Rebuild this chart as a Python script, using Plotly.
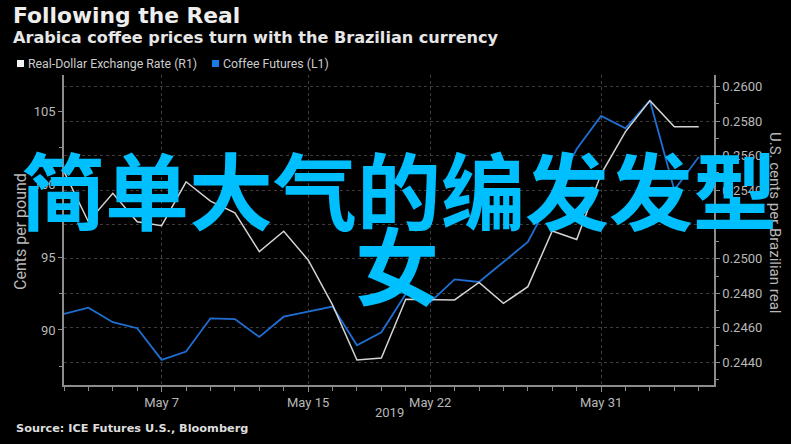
import plotly.graph_objects as go

# ---- data ----
dates = ["2019-05-01", "2019-05-02", "2019-05-03", "2019-05-06", "2019-05-07",
         "2019-05-08", "2019-05-09", "2019-05-10", "2019-05-13", "2019-05-14",
         "2019-05-15", "2019-05-16", "2019-05-17", "2019-05-20", "2019-05-21",
         "2019-05-22", "2019-05-23", "2019-05-24", "2019-05-27", "2019-05-28",
         "2019-05-29", "2019-05-30", "2019-05-31", "2019-06-03", "2019-06-04",
         "2019-06-05", "2019-06-06"]

real_dollar = [0.25507, 0.25216, 0.25381, 0.25216, 0.25193, 0.25448, 0.25336,
               0.25267, 0.25043, 0.25161, 0.24994, 0.24733, 0.24413, 0.24425,
               0.24766, 0.24766, 0.24762, 0.24864, 0.24742, 0.24839, 0.25162,
               0.25113, 0.25493, 0.25739, 0.25919, 0.25768, 0.25768]

coffee = [91.10, 91.53, 90.53, 90.12, 87.95, 88.52, 90.80, 90.75, 89.52, 90.91,
          91.25, 91.60, 88.95, 89.84, 92.47, 91.90, 93.47, 93.29, 94.66, 96.03,
          99.18, 102.40, 104.66, 103.82, 105.71, 99.59, 101.85]

major_ticks = ["2019-05-07", "2019-05-15", "2019-05-22", "2019-05-31"]
major_labels = ["May 7", "May 15", "May 22", "May 31"]
left_ticks = [90, 95, 100, 105]
left_minor = [87.5, 92.5, 97.5, 102.5]

title = "Following the Real"
subtitle = "Arabica coffee prices turn with the Brazilian currency"
legend_names = ["Real-Dollar Exchange Rate (R1)", "Coffee Futures (L1)"]
source = "Source: ICE Futures U.S., Bloomberg"
overlay_line1 = "简单大气的编发发型"
overlay_line2 = "女"

# ---- geometry helpers (pixel -> paper) ----
W, H = 791, 444
L, R, T, B = 64, 77, 75, 59
PW, PH = W - L - R, H - T - B


def px(x):
    return (x - L) / PW


def py(y):
    return (H - B - y) / PH


WHITE = "#d4d4d4"
BLUE = "#1f6fd2"
TICKC = "#b8b8b8"
AXC = "#8c8c8c"
GRID = "#3c3c3c"

fig = go.Figure()
fig.add_trace(go.Scatter(x=dates, y=real_dollar, mode="lines", name=legend_names[0],
                         line=dict(color=WHITE, width=1.5), yaxis="y2", showlegend=False))
fig.add_trace(go.Scatter(x=dates, y=coffee, mode="lines", name=legend_names[1],
                         line=dict(color=BLUE, width=1.8), yaxis="y", showlegend=False))

tickfont = dict(family="Roboto", size=13, color=TICKC)

fig.update_layout(
    width=W, height=H,
    margin=dict(l=L, r=R, t=T, b=B, autoexpand=False),
    paper_bgcolor="black", plot_bgcolor="black",
    xaxis=dict(
        type="date",
        range=["2019-05-01", "2019-06-06 15:00"],
        rangebreaks=[dict(bounds=["sat", "mon"])],
        tickmode="array", tickvals=major_ticks, ticktext=major_labels,
        ticks="outside", ticklen=5, tickcolor=AXC, tickwidth=1,
        showgrid=True, gridcolor=GRID, griddash="dot", gridwidth=1,
        showline=True, linecolor=AXC, linewidth=1.5,
        tickfont=tickfont, zeroline=False,
        minor=dict(tickmode="array", tickvals=dates, ticks="outside", ticklen=4,
                   tickcolor=AXC, showgrid=False),
    ),
    yaxis=dict(
        range=[86.23, 107.47],
        tickmode="array", tickvals=left_ticks,
        ticks="outside", ticklen=4, tickcolor=AXC,
        showgrid=False, zeroline=False,
        showline=True, linecolor=AXC, linewidth=1.5,
        tickfont=tickfont,
        minor=dict(tickmode="array", tickvals=left_minor, ticks="outside", ticklen=3,
                   tickcolor=AXC, showgrid=False),
    ),
    yaxis2=dict(
        overlaying="y", side="right",
        range=[0.24268, 0.26068],
        tick0=0.244, dtick=0.002, tickformat=".4f",
        ticks="outside", ticklen=4, tickcolor=AXC,
        showgrid=True, gridcolor=GRID, griddash="dot", gridwidth=1,
        zeroline=False, showline=True, linecolor=AXC, linewidth=1.5,
        tickfont=tickfont,
        minor=dict(dtick=0.001, tick0=0.244, ticks="outside", ticklen=3,
                   tickcolor=AXC, showgrid=False),
    ),
    showlegend=False,
)

ann = []
ann.append(dict(text="<b>" + title + "</b>", x=px(11), y=py(16), xref="paper", yref="paper",
                xanchor="left", yanchor="middle", showarrow=False,
                font=dict(family="DejaVu Sans", size=21.8, color="#eeeeee")))
ann.append(dict(text="<b>" + subtitle + "</b>", x=px(11), y=py(38), xref="paper", yref="paper",
                xanchor="left", yanchor="middle", showarrow=False,
                font=dict(family="DejaVu Sans", size=16.1, color="#e6e6e6")))
legfont = dict(family="Roboto", size=12.3, color="#cccccc")
ann.append(dict(text=legend_names[0], x=px(26), y=py(63.5), xref="paper", yref="paper",
                xanchor="left", yanchor="middle", showarrow=False, font=legfont))
ann.append(dict(text=legend_names[1], x=px(221), y=py(63.5), xref="paper", yref="paper",
                xanchor="left", yanchor="middle", showarrow=False, font=legfont))
ann.append(dict(text="Cents per pound", x=px(21), y=py(231), xref="paper", yref="paper",
                xanchor="center", yanchor="middle", textangle=-90, showarrow=False,
                font=dict(family="Roboto", size=16, color=TICKC)))
ann.append(dict(text="U.S. cents per Brazilian real", x=px(775), y=py(222), xref="paper", yref="paper",
                xanchor="center", yanchor="middle", textangle=90, showarrow=False,
                font=dict(family="Roboto", size=15, color=TICKC)))
ann.append(dict(text="2019", x=px(389), y=py(412), xref="paper", yref="paper",
                xanchor="center", yanchor="middle", showarrow=False,
                font=dict(family="Roboto", size=13, color=TICKC)))
ann.append(dict(text="<b>" + source + "</b>", x=px(14), y=py(428), xref="paper", yref="paper",
                xanchor="left", yanchor="middle", showarrow=False,
                font=dict(family="DejaVu Sans", size=11.3, color="#dddddd")))
ovfont = dict(family="Noto Sans CJK SC", size=84, color="#00bfff", weight="bold")
ann.append(dict(text=overlay_line1, x=px(399), y=py(187), xref="paper", yref="paper",
                xanchor="center", yanchor="middle", showarrow=False, font=ovfont))
ann.append(dict(text=overlay_line2, x=px(397), y=py(262), xref="paper", yref="paper",
                xanchor="center", yanchor="middle", showarrow=False, font=ovfont))
fig.update_layout(annotations=ann)

shapes = [
    dict(type="rect", xref="paper", yref="paper", x0=px(17), x1=px(24), y0=py(67), y1=py(60),
         fillcolor="#f2f2f2", line=dict(width=0)),
    dict(type="rect", xref="paper", yref="paper", x0=px(212), x1=px(219), y0=py(67), y1=py(60),
         fillcolor="#1a7ae6", line=dict(width=0)),
]
fig.update_layout(shapes=shapes)

fig.write_html("out.html")
